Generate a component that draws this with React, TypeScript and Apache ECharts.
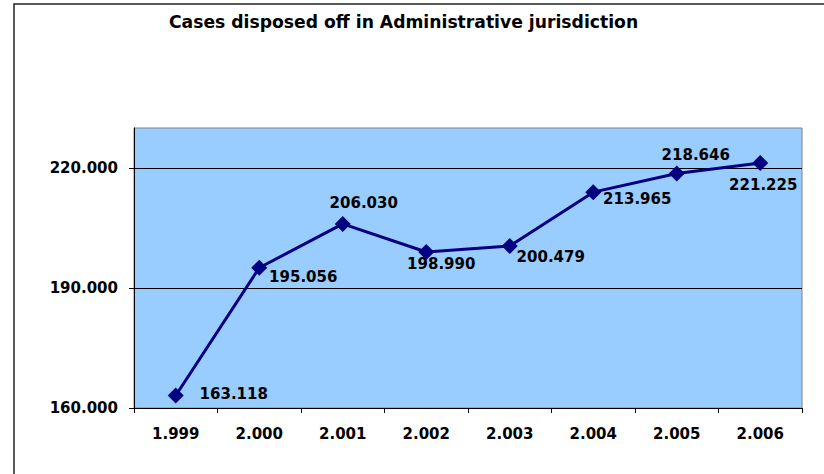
import React, { useEffect, useRef } from "react";
import * as echarts from "echarts";

const titleText = "Cases disposed off in Administrative jurisdiction";
const categories = ["1.999", "2.000", "2.001", "2.002", "2.003", "2.004", "2.005", "2.006"];
const casesDisposed = [163118, 195056, 206030, 198990, 200479, 213965, 218646, 221225];
const yTicks = [160000, 190000, 220000];
// label placement relative to each point (style, not data)
const labelOffsets: [number, number][] = [
  [58, -2],
  [44, 9],
  [21, -21],
  [15, 12],
  [41, 11],
  [44, 7],
  [19, -18],
  [3, 22],
];

const fmt = (v: number) => {
  const s = Math.round(v).toString();
  return s.replace(/\B(?=(\d{3})+(?!\d))/g, ".");
};

const FONT = "DejaVu Sans";

export default function App() {
  const ref = useRef<HTMLDivElement>(null);
  useEffect(() => {
    if (!ref.current) return;
    const chart = echarts.init(ref.current, undefined, { renderer: "svg" });
    chart.setOption({
      animation: false,
      backgroundColor: "#ffffff",
      title: {
        text: titleText,
        left: 164,
        top: 8,
        textStyle: { fontFamily: FONT, fontWeight: "bold", fontSize: 17.2, color: "#000" },
      },
      graphic: [
        {
          type: "rect",
          shape: { x: 14, y: 4, width: 900, height: 600 },
          style: { fill: "none", stroke: "#222", lineWidth: 1.5 },
          silent: true,
          z: 100,
        },
      ],
      grid: {
        left: 134,
        top: 128,
        right: 22,
        bottom: 66,
        show: true,
        backgroundColor: "#99CCFF",
        borderColor: "#808080",
        borderWidth: 1,
      },
      xAxis: {
        type: "category",
        data: categories,
        boundaryGap: true,
        axisLine: { show: true, lineStyle: { color: "#000", width: 1 } },
        axisTick: { show: true, alignWithLabel: false, length: 5, lineStyle: { color: "#000" } },
        axisLabel: {
          margin: 18,
          fontFamily: FONT,
          fontWeight: "bold",
          fontSize: 15,
          color: "#000",
        },
        splitLine: { show: false },
      },
      yAxis: {
        type: "value",
        min: 160000,
        max: 230000,
        interval: 30000,
        axisLine: { show: true, lineStyle: { color: "#000", width: 1 } },
        axisTick: { show: true, length: 5, lineStyle: { color: "#000" }, customValues: yTicks },
        axisLabel: {
          margin: 16,
          fontFamily: FONT,
          fontWeight: "bold",
          fontSize: 15,
          color: "#000",
          customValues: yTicks,
          formatter: (v: number) => fmt(v),
        },
        splitLine: {
          show: true,
          showMinLine: false,
          lineStyle: { color: "#000", width: 1 },
        },
      },
      series: [
        {
          type: "line",
          data: casesDisposed.map((v, i) => ({
            value: v,
            label: { offset: labelOffsets[i] },
          })),
          symbol: "diamond",
          symbolSize: 16,
          lineStyle: { color: "#000080", width: 3 },
          itemStyle: { color: "#000080" },
          label: {
            show: true,
            position: "inside",
            fontFamily: FONT,
            fontWeight: "bold",
            fontSize: 15,
            color: "#000",
            formatter: (p: any) => fmt(p.value),
          },
        },
      ],
    });
    return () => chart.dispose();
  }, []);
  return (
    <div
      ref={ref}
      style={{ position: "fixed", left: 0, top: 0, width: 824, height: 474 }}
    />
  );
}
